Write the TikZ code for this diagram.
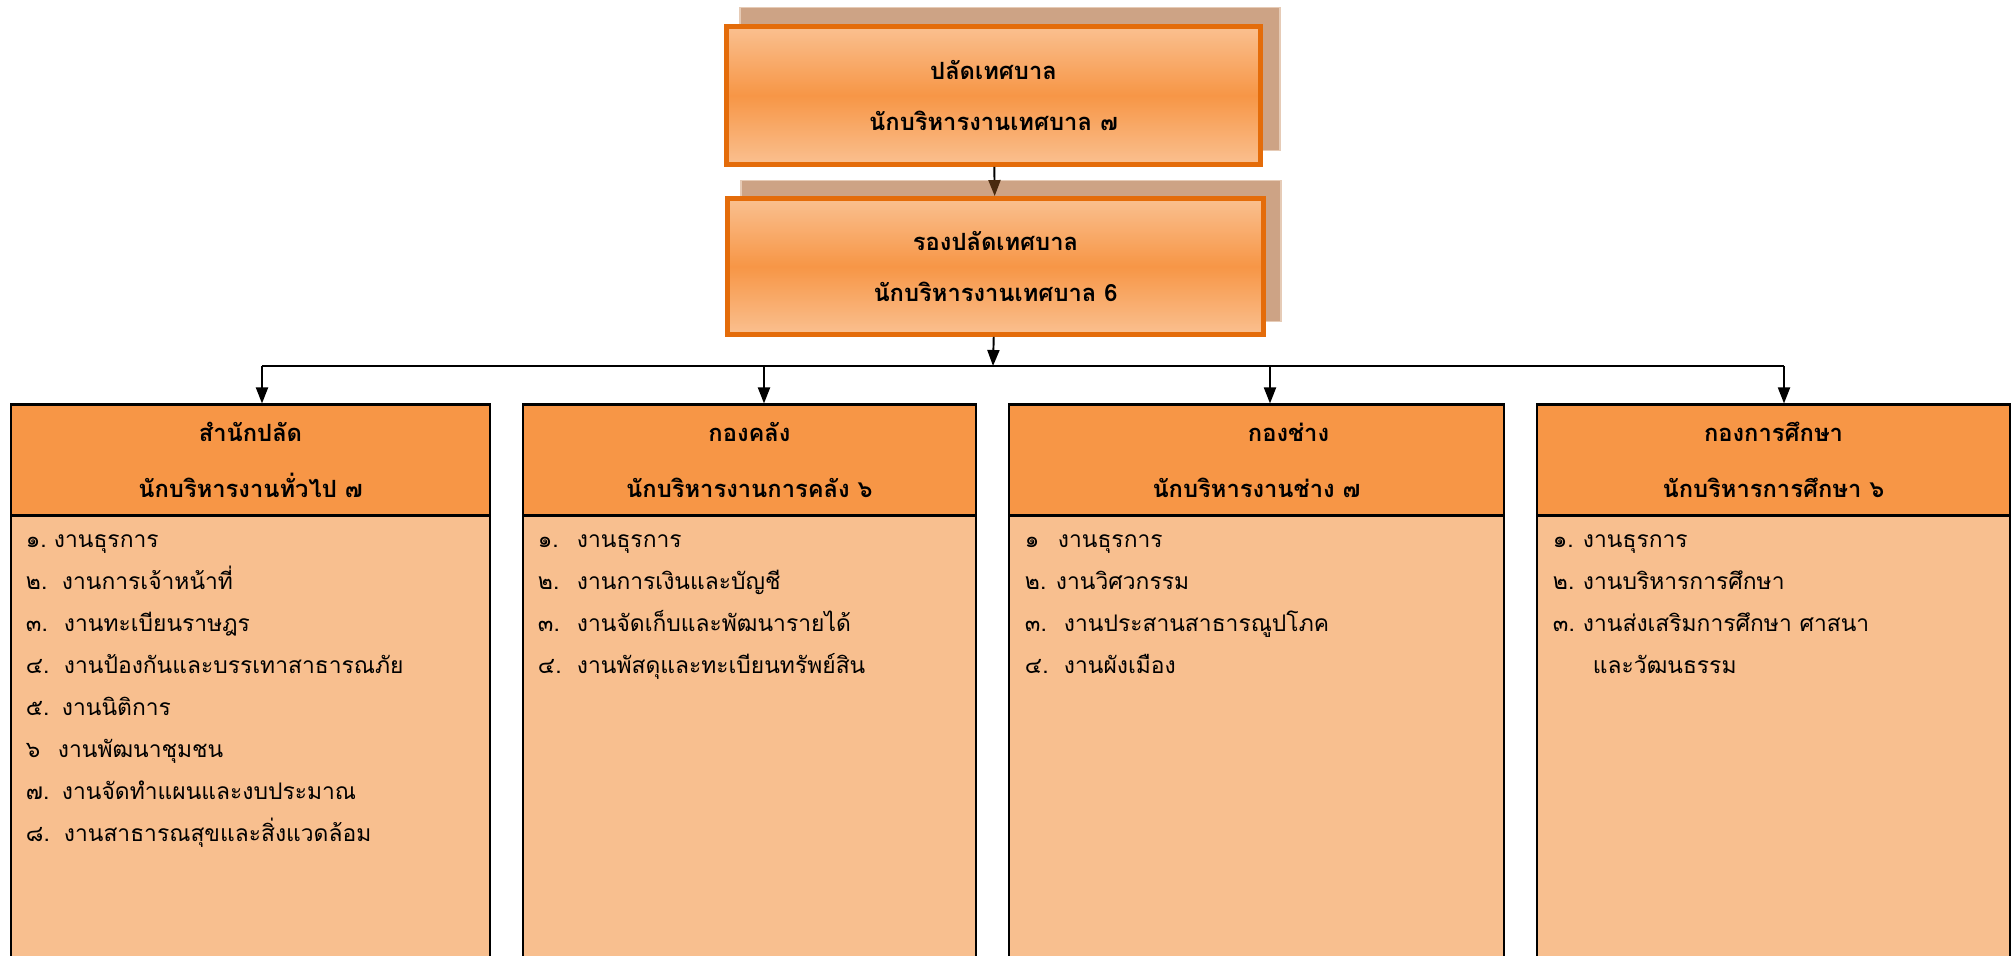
\documentclass[tikz,border=0pt]{standalone}
\usepackage{fontspec}
\newfontfamily\thaifont[Script=Thai]{Loma}
\usetikzlibrary{positioning,arrows.meta}

\definecolor{boxedge}{HTML}{E46C0A}
\definecolor{lightorange}{HTML}{FAC090}
\definecolor{midorange}{HTML}{F79646}
\definecolor{shadowtan}{HTML}{CDA385}
\definecolor{shadowedge}{HTML}{E6CBB6}
\definecolor{headfill}{HTML}{F79646}
\definecolor{bodyfill}{HTML}{F8BF8F}
\definecolor{tipbrown}{HTML}{4A2A0E}

\newcommand{\itemno}[2]{\makebox[#1][l]{#2}}

\begin{document}
\begin{tikzpicture}[
                        x=0.02cm, y=-0.02cm,
                        ->,
                        >={Triangle[length=0.32cm,width=0.24cm]},
                        line width=1.1pt,
                        font=\thaifont
                    ]
                    \tikzstyle{shadowbox}=[draw=shadowedge,fill=shadowtan,line width=1pt,minimum width=10.8cm]
                    \tikzstyle{topbox}=[draw=boxedge,line width=2.8pt,top color=lightorange,bottom color=lightorange,middle color=midorange,align=center,font={\thaifont\bfseries\fontsize{13.5}{29}\selectfont}]
                    \tikzstyle{head}=[draw=black,fill=headfill,line width=1.2pt,minimum height=2.22cm,align=center,font={\thaifont\bfseries\fontsize{13.5}{31.75}\selectfont}]
                    \tikzstyle{body}=[draw=black,fill=bodyfill,line width=1.2pt,minimum height=9.6cm]
                    \tikzstyle{items}=[anchor=north west,inner sep=0pt,align=left,font={\thaifont\fontsize{13}{23.9}\selectfont}]

                    \useasboundingbox (0,0) rectangle (2015,956);
                    \clip (0,0) rectangle (2015,956);

                    % top two boxes
                    \node[shadowbox,minimum height=2.86cm] (pds) at (1010,79)  {};
                    \node[topbox,minimum width=10.68cm,minimum height=2.76cm] (pd) at (993.5,95.5)
                        {ปลัดเทศบาล\\นักบริหารงานเทศบาล ๗};
                    \node[shadowbox,minimum height=2.82cm] (rpds) at (1011,251) {};
                    \node[topbox,minimum width=10.72cm,minimum height=2.72cm] (rpd) at (995.5,266.5)
                        {รองปลัดเทศบาล\\นักบริหารงานเทศบาล 6};

                    % division headers
                    \node[head,minimum width=9.58cm] (h1) at (250.5,460)  {สำนักปลัด\\นักบริหารงานทั่วไป ๗};
                    \node[head,minimum width=9.06cm] (h2) at (749.5,460)  {กองคลัง\\นักบริหารงานการคลัง ๖};
                    \node[head,minimum width=9.9cm]  (h3) at (1256.5,460) {\hspace*{1.28cm}กองช่าง\\นักบริหารงานช่าง ๗};
                    \node[head,minimum width=9.46cm] (h4) at (1773.5,460) {กองการศึกษา\\นักบริหารการศึกษา ๖};

                    \node[body,minimum width=9.58cm,below=-1.2pt of h1] (b1) {};
                    \node[body,minimum width=9.06cm,below=-1.2pt of h2] (b2) {};
                    \node[body,minimum width=9.9cm,below=-1.2pt of h3]  (b3) {};
                    \node[body,minimum width=9.46cm,below=-1.2pt of h4] (b4) {};

                    % work lists
                    \node[items] (l1) at ([xshift=0.3cm,yshift=-0.35cm]h1.south west) {%
                        \itemno{0.56cm}{๑.}งานธุรการ\\
                        \itemno{0.72cm}{๒.}งานการเจ้าหน้าที่\\
                        \itemno{0.76cm}{๓.}งานทะเบียนราษฎร\\
                        \itemno{0.76cm}{๔.}งานป้องกันและบรรเทาสาธารณภัย\\
                        \itemno{0.72cm}{๕.}งานนิติการ\\
                        \itemno{0.64cm}{๖}งานพัฒนาชุมชน\\
                        \itemno{0.72cm}{๗.}งานจัดทำแผนและงบประมาณ\\
                        \itemno{0.76cm}{๘.}งานสาธารณสุขและสิ่งแวดล้อม};
                    \node[items] (l2) at ([xshift=0.3cm,yshift=-0.35cm]h2.south west) {%
                        \itemno{0.78cm}{๑.}งานธุรการ\\
                        \itemno{0.78cm}{๒.}งานการเงินและบัญชี\\
                        \itemno{0.78cm}{๓.}งานจัดเก็บและพัฒนารายได้\\
                        \itemno{0.78cm}{๔.}งานพัสดุและทะเบียนทรัพย์สิน};
                    \node[items] (l3) at ([xshift=0.32cm,yshift=-0.35cm]h3.south west) {%
                        \itemno{0.66cm}{๑}งานธุรการ\\
                        \itemno{0.62cm}{๒.}งานวิศวกรรม\\
                        \itemno{0.78cm}{๓.}งานประสานสาธารณูปโภค\\
                        \itemno{0.78cm}{๔.}งานผังเมือง};
                    \node[items] (l4) at ([xshift=0.32cm,yshift=-0.35cm]h4.south west) {%
                        \itemno{0.6cm}{๑.}งานธุรการ\\
                        \itemno{0.6cm}{๒.}งานบริหารการศึกษา\\
                        \itemno{0.6cm}{๓.}งานส่งเสริมการศึกษา ศาสนา\\
                        \itemno{0.8cm}{}และวัฒนธรรม};

                    % connectors
                    \coordinate (bus) at (993,366);
                    \coordinate (t1) at ([xshift=0.23cm]h1.north);
                    \coordinate (t2) at ([xshift=0.29cm]h2.north);
                    \coordinate (t3) at ([xshift=0.27cm]h3.north);
                    \coordinate (t4) at ([xshift=0.21cm]h4.north);

                    \draw[-{Triangle[length=0.32cm,width=0.24cm,color=tipbrown]}] (pd) -- (rpd);
                    \draw (rpd) -- (bus);
                    \draw[-] (t1 |- bus) -- (t4 |- bus);
                    \foreach \t in {t1,t2,t3,t4}
                        \draw (\t |- bus) -- (\t);

                \end{tikzpicture}
\end{document}
